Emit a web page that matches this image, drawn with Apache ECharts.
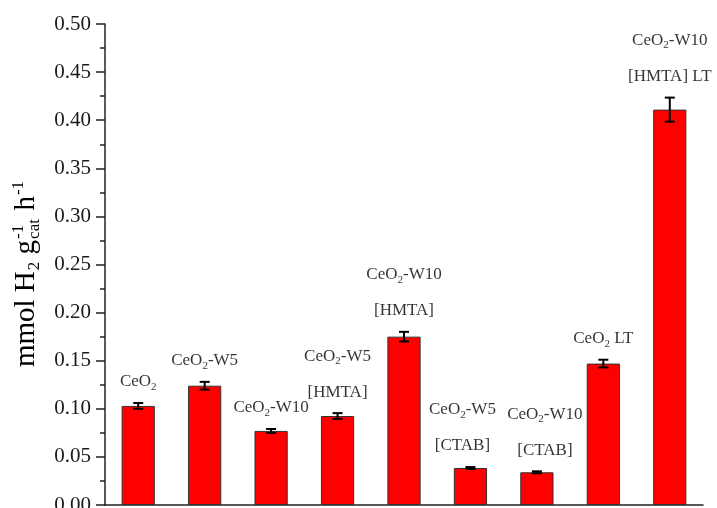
<!DOCTYPE html>
<html>
<head>
<meta charset="utf-8">
<script src="https://cdn.jsdelivr.net/npm/echarts@6/dist/echarts.min.js"></script>
<style>
html,body{margin:0;padding:0;background:#fff;}
#chart{width:717px;height:508px;}
</style>
</head>
<body>
<div id="chart"></div>
<script>
// ---- data ----
var categories = ['CeO2', 'CeO2-W5', 'CeO2-W10', 'CeO2-W5 [HMTA]', 'CeO2-W10 [HMTA]', 'CeO2-W5 [CTAB]', 'CeO2-W10 [CTAB]', 'CeO2 LT', 'CeO2-W10 [HMTA] LT'];
var values = [0.103, 0.124, 0.077, 0.0925, 0.175, 0.0385, 0.034, 0.147, 0.411];
var errors = [0.003, 0.004, 0.002, 0.003, 0.005, 0.001, 0.001, 0.004, 0.0125];
var yTicks = [0, 0.05, 0.10, 0.15, 0.20, 0.25, 0.30, 0.35, 0.40, 0.45, 0.50];
// rich-text label lines for each bar
var labelLines = [
  ['{t|CeO}{s|2}'],
  ['{t|CeO}{s|2}{t|-W5}'],
  ['{t|CeO}{s|2}{t|-W10}'],
  ['{t|CeO}{s|2}{t|-W5}', '{t|[HMTA]}'],
  ['{t|CeO}{s|2}{t|-W10}', '{t|[HMTA]}'],
  ['{t|CeO}{s|2}{t|-W5}', '{t|[CTAB]}'],
  ['{t|CeO}{s|2}{t|-W10}', '{t|[CTAB]}'],
  ['{t|CeO}{s|2}{t| LT}'],
  ['{t|CeO}{s|2}{t|-W10}', '{t|[HMTA] LT}']
];

// ---- layout constants (not data) ----
var labelShift = {5: -8, 6: 8};
var serif = '"Liberation Serif", "DejaVu Serif", serif';

var chart = echarts.init(document.getElementById('chart'));

var labelData = values.map(function (v, i) {
  var item = { value: [i, v + errors[i]] };
  if (labelShift[i] != null) item.label = { offset: [labelShift[i], 0] };
  return item;
});

var option = {
  animation: false,
  backgroundColor: '#fff',
  grid: { left: 105, right: 14, top: 24, bottom: 3, containLabel: false, outerBoundsMode: 'none' },
  xAxis: {
    type: 'category',
    data: categories,
    boundaryGap: true,
    axisLine: { show: true, lineStyle: { color: '#222', width: 1.5 } },
    axisTick: { show: false },
    axisLabel: { show: false },
    splitLine: { show: false }
  },
  yAxis: {
    type: 'value',
    min: 0, max: 0.5, interval: 0.05,
    name: '{a|mmol H}{s|2}{a| g}{c|cat}{q|-1}{a| h}{q|-1}',
    nameLocation: 'middle',
    nameGap: 58,
    nameRotate: 90,
    nameTextStyle: {
      color: '#000',
      fontFamily: serif,
      padding: [0, 12, 0, 0],
      rich: {
        a: { fontSize: 29, fontFamily: serif, color: '#000' },
        s: { fontSize: 17, fontFamily: serif, color: '#000', padding: [16, 0, 0, 1] },
        c: { fontSize: 17, fontFamily: serif, color: '#000', padding: [16, -11, 0, 11], width: 0, overflow: 'none' },
        q: { fontSize: 17, fontFamily: serif, color: '#000', padding: [0, 7, 16, 1] }
      }
    },
    axisLine: { show: true, lineStyle: { color: '#222', width: 1.5 } },
    axisTick: { show: true, inside: false, length: 9, lineStyle: { color: '#222', width: 1.5 } },
    minorTick: { show: true, splitNumber: 2, length: 5, lineStyle: { color: '#222', width: 1.5 } },
    axisLabel: {
      margin: 14,
      color: '#1a1a1a',
      fontSize: 21,
      fontFamily: serif,
      formatter: function (v) {
        for (var k = 0; k < yTicks.length; k++) {
          if (Math.abs(yTicks[k] - v) < 1e-9) return yTicks[k].toFixed(2);
        }
        return '';
      }
    },
    splitLine: { show: false },
    minorSplitLine: { show: false }
  },
  series: [
    {
      type: 'bar',
      data: values,
      barWidth: '50%',
      itemStyle: { color: '#ff0000', borderColor: '#333', borderWidth: 1 },
      silent: true
    },
    {
      type: 'custom',
      silent: true,
      data: values.map(function (v, i) { return [i, v - errors[i], v + errors[i]]; }),
      renderItem: function (params, api) {
        var x = api.value(0);
        var lo = api.coord([x, api.value(1)]);
        var hi = api.coord([x, api.value(2)]);
        var hw = 5;
        var st = { stroke: '#000', lineWidth: 2 };
        return {
          type: 'group',
          children: [
            { type: 'line', shape: { x1: lo[0], y1: lo[1], x2: hi[0], y2: hi[1] }, style: st },
            { type: 'line', shape: { x1: hi[0] - hw, y1: hi[1], x2: hi[0] + hw, y2: hi[1] }, style: st },
            { type: 'line', shape: { x1: lo[0] - hw, y1: lo[1], x2: lo[0] + hw, y2: lo[1] }, style: st }
          ]
        };
      },
      z: 3
    },
    {
      type: 'scatter',
      silent: true,
      symbolSize: 0,
      data: labelData,
      label: {
        show: true,
        position: 'top',
        distance: 3,
        align: 'center',
        formatter: function (p) { return labelLines[p.dataIndex].join('\n'); },
        rich: {
          t: { fontSize: 17, fontFamily: serif, color: '#000', lineHeight: 36 },
          s: { fontSize: 11, fontFamily: serif, color: '#000', padding: [10, 0, 0, 0] }
        }
      },
      z: 4
    }
  ]
};
chart.setOption(option);
</script>
</body>
</html>
